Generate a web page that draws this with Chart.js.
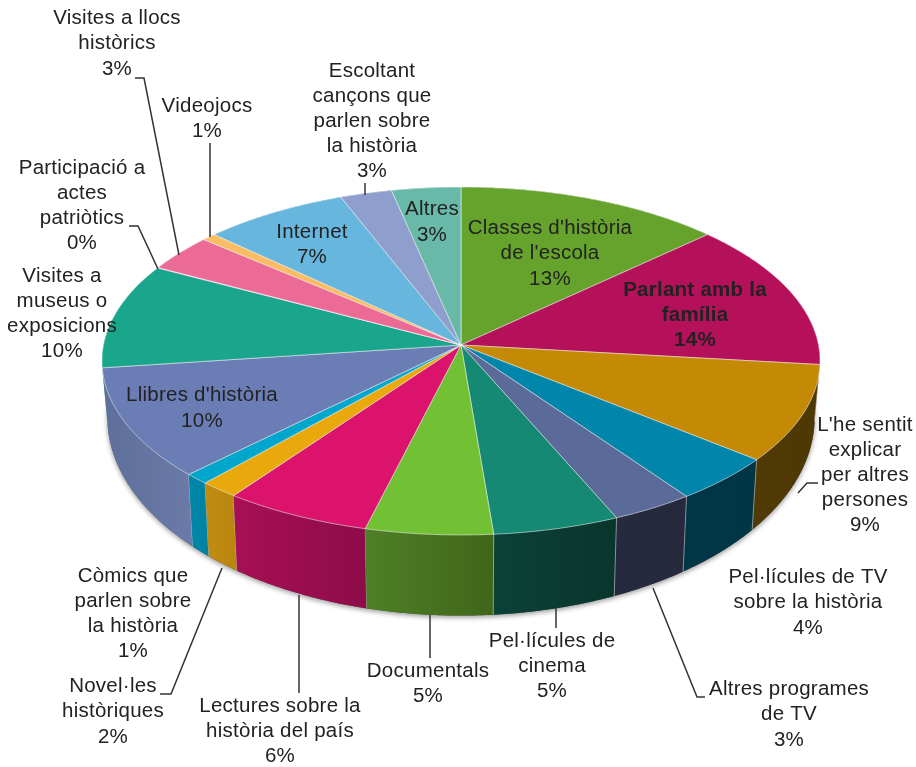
<!DOCTYPE html>
<html>
<head>
<meta charset="utf-8">
<title>Fonts d'història</title>
<script src="https://cdn.jsdelivr.net/npm/chart.js@4"></script>
<style>
    html, body { margin: 0; padding: 0; background: #fff; }
    canvas { display: block; }
</style>
</head>
<body>
<canvas id="pieChart" width="916" height="767"></canvas>
<script>
// Data, clockwise from twelve o'clock
const categories = [
    "Classes d'història|de l'escola", 'Parlant amb la|família', "L'he sentit|explicar|per altres|persones",
    'Pel·lícules de TV|sobre la història', 'Altres programes|de TV', 'Pel·lícules de|cinema',
    'Documentals', 'Lectures sobre la|història del país', 'Novel·les|històriques',
    'Còmics que|parlen sobre|la història', "Llibres d'història", 'Visites a|museus o|exposicions',
    'Participació a|actes|patriòtics', 'Visites a llocs|històrics', 'Videojocs',
    'Internet', 'Escoltant|cançons que|parlen sobre|la història', 'Altres'
];
const shares = [13.1, 13.7, 9.0, 4.3, 3.4, 5.2, 5.25, 6.1, 1.6, 1.0, 10.3, 9.8, 0.05, 3.45, 0.7, 7.15, 2.55, 3.4];

// Slice colours: top face, then the wall (left and right end of the gradient)
const topColors = [
    '#66a32d', '#b5105a', '#c48a05', '#0085ab', '#5a6a99', '#158974',
    '#72c034', '#dc136c', '#e9a80c', '#00a6cc', '#6b7db5', '#19a68c',
    '#e8688f', '#ec6a96', '#fbbd63', '#66b6dd', '#8f9fcd', '#69b9a8'
];
const wallLeft = [
    '#4a7a20', '#8a0c45', '#503a05', '#003647', '#262a3e', '#0a4238',
    '#4f7f27', '#a80f55', '#c28c10', '#0087a8', '#5e6f9b', '#12806c',
    '#b05070', '#b05070', '#c09048', '#4a8cab', '#6a7a9c', '#4c8c80'
];
const wallRight = [
    '#4a7a20', '#8a0c45', '#4d3804', '#003644', '#26293c', '#0a352c',
    '#3f6619', '#8c0c48', '#b8850f', '#0082a3', '#6b7aa8', '#12806c',
    '#b05070', '#b05070', '#c09048', '#4a8cab', '#6a7a9c', '#4c8c80'
];

// Where each label goes: centre x, centre y of the first line, line step
const labelPlaces = [
    [550, 228, 25.5], [695, 290, 25], [865, 425, 25], [808, 577, 25.5], [789, 689, 25.5], [552, 641, 25],
    [428, 671, 25], [280, 706, 25], [113, 686, 25.5], [133, 576, 25], [202, 395, 26], [62, 276, 25],
    [82, 168, 25], [117, 18, 25.5], [207, 106, 25], [312, 232, 25], [372, 71, 25], [432, 209, 26]
];

// Leader lines from label to slice
const leaders = [
    [[135, 78], [144, 78], [179, 255]],
    [[210, 143], [210, 237]],
    [[365, 183], [365, 195]],
    [[129, 226], [138, 226], [158, 269]],
    [[818, 483], [807, 483], [798, 493]],
    [[705, 697], [697, 697], [653, 588]],
    [[556, 608], [556, 628]],
    [[430, 615], [430, 658]],
    [[299, 595], [299, 693]],
    [[160, 694], [171, 694], [222, 568]]
];

// Perspective of the tilted disc
const disc = { cx: 461, cy: 345, a: 357.5, b: 172.5, k: 0.092, drop: 54, wallX: 0.985, wallY: 1.14 };

function topPoint(angle) {
    const u = Math.sin(angle), v = -Math.cos(angle), w = 1 - disc.k * v;
    return [disc.cx + disc.a * u / w, disc.cy + disc.b * v / w];
}

function bottomPoint(angle) {
    const u = Math.sin(angle), v = -Math.cos(angle), w = 1 - disc.k * v;
    return [disc.cx + disc.wallX * disc.a * u / w, disc.cy + disc.drop + disc.wallY * disc.b * v / w];
}

function anglesBetween(from, to) {
    const steps = Math.max(2, Math.ceil((to - from) / 0.01));
    const list = [];
    for (let i = 0; i <= steps; i++) list.push(from + (to - from) * i / steps);
    return list;
}

function tracePoints(ctx, points) {
    points.forEach((p, i) => (i ? ctx.lineTo(p[0], p[1]) : ctx.moveTo(p[0], p[1])));
}

const pie3d = {
    id: 'pie3d',
    beforeDatasetsDraw(chart) {
        const ctx = chart.ctx;
        // Chart.js starts the pie at -90deg, so shift its angles to clock angles
        const slices = chart.getDatasetMeta(0).data.map((arc, index) => ({
            index,
            start: arc.startAngle + Math.PI / 2,
            end: arc.endAngle + Math.PI / 2
        }));

        // Soft shadow under the body
        ctx.save();
        ctx.shadowColor = 'rgba(0,0,0,0.4)';
        ctx.shadowBlur = 5;
        ctx.shadowOffsetY = 2;
        ctx.fillStyle = '#555';
        ctx.beginPath();
        tracePoints(ctx, anglesBetween(0, Math.PI * 2).map(bottomPoint));
        ctx.closePath();
        ctx.fill();
        ctx.restore();

        // Walls, far ones first
        const byDepth = slices.slice().sort((p, q) =>
            Math.abs((q.start + q.end) / 2 - Math.PI) - Math.abs((p.start + p.end) / 2 - Math.PI));
        byDepth.forEach(s => {
            const angles = anglesBetween(s.start, s.end);
            const upper = angles.map(topPoint);
            const lower = angles.map(bottomPoint);
            const xs = upper.concat(lower).map(p => p[0]);
            const grad = ctx.createLinearGradient(Math.min(...xs), 0, Math.max(...xs), 0);
            grad.addColorStop(0, wallLeft[s.index]);
            grad.addColorStop(1, wallRight[s.index]);
            ctx.fillStyle = grad;
            ctx.beginPath();
            tracePoints(ctx, upper.concat(lower.reverse()));
            ctx.closePath();
            ctx.fill();
            // Light seam at the slice edge
            ctx.strokeStyle = 'rgba(255,255,255,0.45)';
            ctx.lineWidth = 1;
            ctx.beginPath();
            tracePoints(ctx, [topPoint(s.start), bottomPoint(s.start)]);
            ctx.stroke();
        });

        // Top faces
        slices.forEach(s => {
            const rim = anglesBetween(s.start, s.end).map(topPoint);
            ctx.fillStyle = topColors[s.index];
            ctx.strokeStyle = 'rgba(255,255,255,0.5)';
            ctx.lineWidth = 1;
            ctx.beginPath();
            ctx.moveTo(disc.cx, disc.cy);
            rim.forEach(p => ctx.lineTo(p[0], p[1]));
            ctx.closePath();
            ctx.fill();
            ctx.stroke();
        });
        return false;
    },
    afterDraw(chart) {
        const ctx = chart.ctx;
        ctx.save();
        ctx.strokeStyle = '#333';
        ctx.lineWidth = 1.5;
        leaders.forEach(line => {
            ctx.beginPath();
            tracePoints(ctx, line);
            ctx.stroke();
        });

        ctx.fillStyle = '#222';
        ctx.textAlign = 'center';
        ctx.textBaseline = 'middle';
        ctx.letterSpacing = '0.25px';
        categories.forEach((name, i) => {
            const lines = name.split('|').concat(Math.round(shares[i]) + '%');
            const [x, y, step] = labelPlaces[i];
            ctx.font = (i === 1 ? 'bold ' : '') + '20.5px "Liberation Sans", Arial, sans-serif';
            lines.forEach((text, n) => ctx.fillText(text, x, y + n * step));
        });
        ctx.restore();
    }
};

new Chart(document.getElementById('pieChart'), {
    type: 'pie',
    data: {
        labels: categories.map(name => name.replace(/\|/g, ' ')),
        datasets: [{ data: shares, backgroundColor: topColors }]
    },
    options: {
        responsive: false,
        animation: false,
        events: [],
        plugins: {
            legend: { display: false },
            tooltip: { enabled: false }
        }
    },
    plugins: [pie3d]
});
</script>
</body>
</html>
